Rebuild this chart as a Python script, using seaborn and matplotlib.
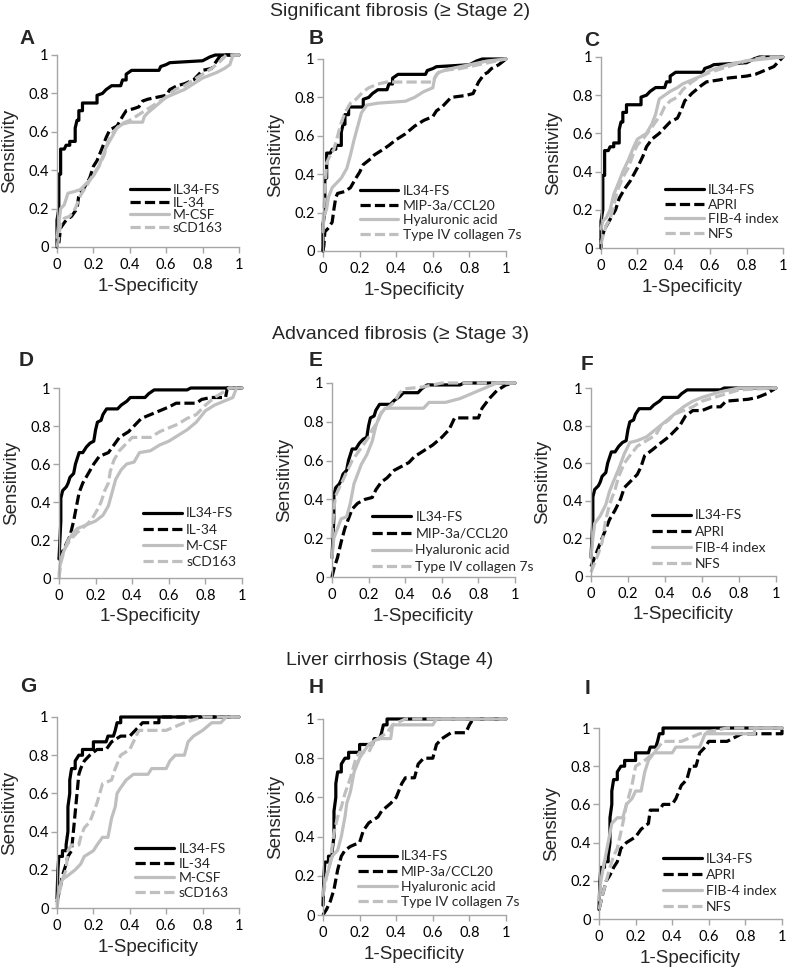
import matplotlib
matplotlib.use('Agg')
import matplotlib.pyplot as plt
import seaborn as sns
import pandas as pd

# ROC points (1-specificity, sensitivity)
# --- significant fibrosis (>= stage 2) ---
il34fs_s2 = [(0, 0), (0, 0.14), (0.01, 0.2), (0.01, 0.38), (0.02, 0.38), (0.02, 0.51), (0.04, 0.51),
             (0.05, 0.53), (0.07, 0.53), (0.07, 0.55), (0.1, 0.55), (0.1, 0.62), (0.11, 0.66), (0.12, 0.66),
             (0.12, 0.71), (0.14, 0.71), (0.14, 0.75), (0.22, 0.75), (0.22, 0.79), (0.25, 0.8), (0.27, 0.82),
             (0.3, 0.84), (0.35, 0.84), (0.36, 0.87), (0.38, 0.87), (0.38, 0.9), (0.41, 0.92), (0.56, 0.92),
             (0.57, 0.94), (0.6, 0.95), (0.62, 0.96), (0.8, 0.97), (0.84, 0.99), (0.87, 1), (1, 1)]
il34_s2 = [(0.01, 0.02), (0.02, 0.1), (0.05, 0.14), (0.08, 0.16), (0.11, 0.2), (0.12, 0.27), (0.15, 0.31),
           (0.18, 0.36), (0.2, 0.42), (0.22, 0.45), (0.25, 0.52), (0.27, 0.57), (0.29, 0.61), (0.33, 0.63),
           (0.36, 0.68), (0.38, 0.71), (0.42, 0.72), (0.45, 0.73), (0.47, 0.76), (0.5, 0.77), (0.55, 0.78),
           (0.6, 0.79), (0.62, 0.82), (0.66, 0.84), (0.7, 0.85), (0.75, 0.87), (0.8, 0.92), (0.85, 0.93),
           (0.87, 0.96), (0.9, 1), (1, 1)]
mcsf_s2 = [(0, 0.05), (0.01, 0.12), (0.02, 0.2), (0.04, 0.22), (0.06, 0.28), (0.1, 0.29), (0.13, 0.3),
           (0.16, 0.33), (0.2, 0.37), (0.23, 0.42), (0.25, 0.47), (0.27, 0.52), (0.3, 0.57), (0.33, 0.62),
           (0.36, 0.64), (0.4, 0.65), (0.47, 0.65), (0.48, 0.68), (0.5, 0.7), (0.55, 0.74), (0.6, 0.78),
           (0.65, 0.8), (0.7, 0.82), (0.75, 0.85), (0.8, 0.88), (0.88, 0.91), (0.92, 0.93), (0.95, 0.95),
           (0.96, 0.98), (0.97, 1), (1, 1)]
scd163_s2 = [(0, 0), (0.01, 0.05), (0.02, 0.12), (0.04, 0.15), (0.07, 0.16), (0.1, 0.2), (0.13, 0.27),
             (0.17, 0.33), (0.2, 0.38), (0.23, 0.42), (0.26, 0.48), (0.28, 0.55), (0.31, 0.6), (0.35, 0.64),
             (0.4, 0.66), (0.45, 0.69), (0.5, 0.72), (0.55, 0.75), (0.6, 0.78), (0.65, 0.82), (0.7, 0.84),
             (0.75, 0.87), (0.8, 0.9), (0.85, 0.93), (0.9, 0.97), (0.93, 1), (1, 1)]
mip_s2 = [(0, 0), (0.005, 0.03), (0.01, 0.1), (0.03, 0.12), (0.05, 0.15), (0.06, 0.22), (0.07, 0.28),
          (0.08, 0.3), (0.12, 0.31), (0.15, 0.33), (0.18, 0.38), (0.2, 0.41), (0.22, 0.45), (0.26, 0.48),
          (0.28, 0.5), (0.33, 0.53), (0.36, 0.55), (0.4, 0.58), (0.45, 0.61), (0.5, 0.65), (0.55, 0.68),
          (0.6, 0.7), (0.62, 0.73), (0.65, 0.75), (0.68, 0.78), (0.7, 0.8), (0.78, 0.81), (0.82, 0.82),
          (0.85, 0.88), (0.88, 0.92), (0.9, 0.93), (0.92, 0.95), (0.96, 0.97), (1, 1)]
ha_s2 = [(0, 0.1), (0.005, 0.18), (0.02, 0.22), (0.03, 0.28), (0.05, 0.33), (0.08, 0.36), (0.1, 0.38),
         (0.13, 0.43), (0.15, 0.5), (0.17, 0.58), (0.19, 0.65), (0.21, 0.72), (0.24, 0.76), (0.3, 0.77),
         (0.45, 0.78), (0.5, 0.8), (0.55, 0.83), (0.6, 0.85), (0.61, 0.9), (0.63, 0.93), (0.7, 0.95),
         (0.8, 0.97), (0.9, 0.99), (1, 1)]
col4_s2 = [(0, 0.15), (0.01, 0.3), (0.02, 0.46), (0.04, 0.5), (0.06, 0.53), (0.08, 0.6), (0.1, 0.67),
           (0.12, 0.72), (0.15, 0.77), (0.18, 0.79), (0.22, 0.83), (0.25, 0.85), (0.3, 0.87), (0.35, 0.88),
           (0.6, 0.88), (0.62, 0.92), (0.65, 0.94), (0.75, 0.95), (0.85, 0.97), (0.9, 0.98), (1, 1)]
apri_s2 = [(0, 0.04), (0.02, 0.1), (0.05, 0.15), (0.08, 0.2), (0.1, 0.26), (0.13, 0.31), (0.16, 0.35),
           (0.2, 0.42), (0.23, 0.48), (0.25, 0.53), (0.28, 0.57), (0.32, 0.6), (0.35, 0.63), (0.38, 0.66),
           (0.42, 0.68), (0.44, 0.72), (0.46, 0.77), (0.5, 0.81), (0.55, 0.85), (0.58, 0.87), (0.65, 0.88),
           (0.7, 0.89), (0.8, 0.9), (0.85, 0.91), (0.9, 0.93), (0.95, 0.95), (0.97, 0.97), (1, 1)]
fib4_s2 = [(0, 0.1), (0.01, 0.14), (0.03, 0.16), (0.05, 0.2), (0.07, 0.28), (0.1, 0.35), (0.12, 0.4),
           (0.15, 0.46), (0.18, 0.53), (0.2, 0.57), (0.25, 0.6), (0.28, 0.65), (0.3, 0.7), (0.32, 0.78),
           (0.35, 0.8), (0.38, 0.82), (0.42, 0.84), (0.45, 0.86), (0.5, 0.88), (0.55, 0.9), (0.6, 0.93),
           (0.7, 0.96), (0.8, 0.98), (0.9, 0.99), (1, 1)]
nfs_s2 = [(0, 0.02), (0.01, 0.06), (0.03, 0.12), (0.05, 0.15), (0.07, 0.22), (0.09, 0.3), (0.12, 0.37),
          (0.15, 0.42), (0.18, 0.5), (0.2, 0.54), (0.23, 0.57), (0.27, 0.62), (0.3, 0.66), (0.33, 0.7),
          (0.35, 0.74), (0.38, 0.77), (0.42, 0.79), (0.45, 0.83), (0.5, 0.87), (0.55, 0.9), (0.6, 0.92),
          (0.7, 0.95), (0.8, 0.98), (0.9, 1), (1, 1)]

# --- advanced fibrosis (>= stage 3) ---
il34fs_s3 = [(0, 0.1), (0.005, 0.2), (0.01, 0.3), (0.01, 0.42), (0.02, 0.46), (0.04, 0.48), (0.05, 0.5),
             (0.06, 0.53), (0.08, 0.55), (0.09, 0.6), (0.1, 0.63), (0.11, 0.66), (0.13, 0.66), (0.15, 0.69),
             (0.17, 0.71), (0.19, 0.72), (0.2, 0.78), (0.21, 0.82), (0.23, 0.83), (0.24, 0.86), (0.26, 0.89),
             (0.32, 0.89), (0.34, 0.91), (0.37, 0.93), (0.39, 0.95), (0.47, 0.95), (0.49, 0.97), (0.52, 0.99),
             (0.7, 0.99), (0.72, 1), (1, 1)]
il34_s3 = [(0, 0.1), (0.02, 0.14), (0.04, 0.18), (0.06, 0.22), (0.08, 0.3), (0.1, 0.4), (0.11, 0.45),
           (0.13, 0.5), (0.16, 0.55), (0.19, 0.6), (0.22, 0.64), (0.27, 0.66), (0.3, 0.7), (0.33, 0.74),
           (0.38, 0.77), (0.41, 0.8), (0.45, 0.84), (0.5, 0.86), (0.55, 0.88), (0.6, 0.9), (0.64, 0.92),
           (0.75, 0.92), (0.78, 0.94), (0.83, 0.95), (0.91, 0.95), (0.92, 1), (1, 1)]
mcsf_s3 = [(0, 0.02), (0.01, 0.1), (0.03, 0.15), (0.05, 0.2), (0.08, 0.24), (0.1, 0.26), (0.15, 0.28),
           (0.2, 0.3), (0.24, 0.33), (0.27, 0.38), (0.29, 0.45), (0.31, 0.52), (0.34, 0.57), (0.37, 0.6),
           (0.41, 0.61), (0.44, 0.66), (0.5, 0.67), (0.55, 0.7), (0.6, 0.72), (0.65, 0.75), (0.7, 0.78),
           (0.75, 0.82), (0.8, 0.88), (0.85, 0.91), (0.9, 0.93), (0.95, 0.95), (0.97, 1), (1, 1)]
scd163_s3 = [(0, 0), (0.01, 0.08), (0.03, 0.15), (0.06, 0.2), (0.1, 0.24), (0.15, 0.28), (0.18, 0.31),
             (0.21, 0.36), (0.23, 0.4), (0.25, 0.46), (0.27, 0.5), (0.28, 0.56), (0.3, 0.62), (0.33, 0.67),
             (0.37, 0.71), (0.4, 0.74), (0.5, 0.74), (0.55, 0.77), (0.6, 0.79), (0.65, 0.81), (0.7, 0.84),
             (0.75, 0.86), (0.8, 0.91), (0.85, 0.95), (0.9, 0.98), (0.93, 1), (1, 1)]
mip_s3 = [(0, 0), (0.01, 0.04), (0.03, 0.1), (0.05, 0.18), (0.07, 0.25), (0.09, 0.3), (0.11, 0.35),
          (0.14, 0.38), (0.18, 0.4), (0.22, 0.41), (0.24, 0.45), (0.27, 0.49), (0.3, 0.51), (0.34, 0.55),
          (0.38, 0.57), (0.42, 0.59), (0.45, 0.62), (0.5, 0.65), (0.55, 0.68), (0.6, 0.72), (0.64, 0.76),
          (0.67, 0.82), (0.8, 0.82), (0.82, 0.87), (0.86, 0.92), (0.9, 0.96), (0.95, 0.99), (1, 1)]
ha_s3 = [(0, 0.1), (0.01, 0.2), (0.03, 0.25), (0.05, 0.3), (0.08, 0.31), (0.1, 0.38), (0.12, 0.48),
         (0.14, 0.53), (0.16, 0.58), (0.19, 0.63), (0.22, 0.7), (0.24, 0.78), (0.26, 0.83), (0.29, 0.87),
         (0.5, 0.87), (0.53, 0.9), (0.62, 0.9), (0.7, 0.92), (0.75, 0.94), (0.8, 0.96), (0.85, 0.98),
         (0.9, 1), (1, 1)]
col4_s3 = [(0, 0.2), (0.01, 0.35), (0.02, 0.42), (0.04, 0.46), (0.06, 0.5), (0.09, 0.56), (0.11, 0.6),
           (0.14, 0.64), (0.17, 0.68), (0.2, 0.72), (0.22, 0.76), (0.25, 0.8), (0.27, 0.85), (0.3, 0.87),
           (0.34, 0.9), (0.37, 0.95), (0.4, 0.97), (0.5, 0.98), (0.55, 0.99), (0.6, 1), (1, 1)]
apri_s3 = [(0, 0.05), (0.02, 0.1), (0.04, 0.15), (0.06, 0.2), (0.08, 0.25), (0.1, 0.3), (0.13, 0.35),
           (0.16, 0.41), (0.18, 0.47), (0.21, 0.5), (0.25, 0.54), (0.27, 0.58), (0.29, 0.64), (0.33, 0.67),
           (0.38, 0.71), (0.42, 0.74), (0.45, 0.77), (0.48, 0.8), (0.51, 0.85), (0.55, 0.88), (0.6, 0.88),
           (0.65, 0.9), (0.7, 0.9), (0.73, 0.93), (0.85, 0.94), (0.9, 0.95), (0.95, 0.97), (1, 1)]
fib4_s3 = [(0, 0.1), (0.01, 0.2), (0.02, 0.28), (0.05, 0.32), (0.08, 0.38), (0.1, 0.45), (0.12, 0.5),
           (0.15, 0.57), (0.18, 0.65), (0.21, 0.71), (0.25, 0.72), (0.3, 0.74), (0.35, 0.78), (0.4, 0.82),
           (0.45, 0.86), (0.5, 0.9), (0.55, 0.93), (0.6, 0.95), (0.7, 0.98), (0.8, 1), (1, 1)]
nfs_s3 = [(0, 0.02), (0.02, 0.07), (0.04, 0.12), (0.06, 0.18), (0.08, 0.3), (0.1, 0.38), (0.13, 0.46),
          (0.15, 0.53), (0.18, 0.6), (0.21, 0.64), (0.25, 0.69), (0.3, 0.72), (0.35, 0.75), (0.38, 0.8),
          (0.42, 0.83), (0.45, 0.86), (0.5, 0.88), (0.55, 0.9), (0.6, 0.93), (0.7, 0.96), (0.8, 0.99), (1, 1)]

# --- liver cirrhosis (stage 4) ---
il34fs_s4 = [(0, 0.05), (0.005, 0.2), (0.01, 0.27), (0.03, 0.27), (0.03, 0.3), (0.05, 0.3), (0.05, 0.33),
             (0.06, 0.4), (0.06, 0.53), (0.07, 0.6), (0.07, 0.67), (0.08, 0.73), (0.1, 0.73), (0.1, 0.77),
             (0.12, 0.8), (0.14, 0.8), (0.14, 0.83), (0.2, 0.83), (0.2, 0.87), (0.27, 0.87), (0.28, 0.9),
             (0.31, 0.9), (0.32, 0.93), (0.33, 0.97), (0.35, 0.97), (0.35, 1), (1, 1)]
il34_s4 = [(0, 0.03), (0.02, 0.12), (0.03, 0.17), (0.04, 0.2), (0.05, 0.23), (0.06, 0.27), (0.08, 0.3),
           (0.09, 0.4), (0.1, 0.5), (0.11, 0.6), (0.12, 0.7), (0.13, 0.73), (0.15, 0.77), (0.18, 0.8),
           (0.22, 0.83), (0.27, 0.83), (0.3, 0.87), (0.35, 0.9), (0.4, 0.9), (0.43, 0.93), (0.47, 0.97),
           (0.56, 0.97), (0.56, 1), (1, 1)]
mcsf_s4 = [(0, 0.02), (0.01, 0.1), (0.03, 0.15), (0.06, 0.17), (0.1, 0.2), (0.13, 0.23), (0.15, 0.27),
           (0.2, 0.3), (0.22, 0.33), (0.25, 0.37), (0.28, 0.37), (0.3, 0.47), (0.32, 0.53), (0.33, 0.6),
           (0.35, 0.63), (0.38, 0.67), (0.42, 0.7), (0.5, 0.7), (0.52, 0.73), (0.6, 0.73), (0.62, 0.77),
           (0.65, 0.8), (0.7, 0.8), (0.72, 0.87), (0.75, 0.9), (0.8, 0.93), (0.85, 0.97), (0.9, 0.97),
           (0.93, 1), (1, 1)]
scd163_s4 = [(0, 0), (0.01, 0.07), (0.03, 0.15), (0.05, 0.2), (0.06, 0.3), (0.08, 0.33), (0.12, 0.33),
             (0.13, 0.37), (0.15, 0.42), (0.18, 0.45), (0.2, 0.5), (0.22, 0.55), (0.25, 0.65), (0.3, 0.67),
             (0.32, 0.73), (0.35, 0.8), (0.4, 0.83), (0.42, 0.87), (0.45, 0.93), (0.6, 0.93), (0.7, 0.97),
             (0.8, 1), (1, 1)]
mip_s4 = [(0, 0), (0.02, 0.03), (0.04, 0.07), (0.06, 0.13), (0.08, 0.23), (0.1, 0.3), (0.12, 0.33),
          (0.15, 0.35), (0.2, 0.37), (0.22, 0.43), (0.25, 0.47), (0.3, 0.5), (0.32, 0.53), (0.37, 0.57),
          (0.4, 0.6), (0.43, 0.67), (0.45, 0.7), (0.5, 0.7), (0.52, 0.77), (0.55, 0.8), (0.6, 0.8),
          (0.62, 0.87), (0.65, 0.9), (0.7, 0.93), (0.78, 0.93), (0.8, 0.97), (0.82, 1), (1, 1)]
ha_s4 = [(0, 0.1), (0.01, 0.17), (0.03, 0.23), (0.05, 0.3), (0.08, 0.33), (0.1, 0.4), (0.12, 0.5),
         (0.13, 0.57), (0.15, 0.63), (0.17, 0.73), (0.2, 0.8), (0.22, 0.83), (0.25, 0.87), (0.3, 0.9),
         (0.37, 0.9), (0.38, 0.97), (0.6, 0.97), (0.62, 1), (1, 1)]
col4_s4 = [(0, 0.1), (0.02, 0.2), (0.04, 0.27), (0.05, 0.35), (0.06, 0.42), (0.08, 0.5), (0.1, 0.55),
           (0.12, 0.62), (0.15, 0.7), (0.18, 0.8), (0.2, 0.83), (0.25, 0.83), (0.27, 0.87), (0.3, 0.9),
           (0.35, 0.93), (0.38, 0.97), (0.45, 1), (1, 1)]
apri_s4 = [(0, 0.05), (0.02, 0.13), (0.04, 0.2), (0.06, 0.23), (0.08, 0.27), (0.1, 0.3), (0.12, 0.37),
           (0.15, 0.4), (0.2, 0.43), (0.23, 0.47), (0.27, 0.5), (0.28, 0.57), (0.33, 0.57), (0.35, 0.6),
           (0.4, 0.6), (0.42, 0.63), (0.45, 0.7), (0.48, 0.73), (0.5, 0.8), (0.53, 0.8), (0.55, 0.87),
           (0.58, 0.9), (0.6, 0.93), (0.7, 0.93), (0.78, 0.97), (1, 0.97), (1, 1)]
fib4_s4 = [(0, 0.1), (0.01, 0.2), (0.03, 0.3), (0.05, 0.4), (0.07, 0.5), (0.1, 0.53), (0.13, 0.53),
           (0.15, 0.6), (0.18, 0.63), (0.2, 0.67), (0.23, 0.67), (0.25, 0.77), (0.27, 0.83), (0.3, 0.87),
           (0.4, 0.87), (0.42, 0.9), (0.55, 0.9), (0.58, 0.97), (0.85, 0.97), (0.85, 1), (1, 1)]
nfs_s4 = [(0, 0.05), (0.02, 0.13), (0.04, 0.2), (0.06, 0.27), (0.08, 0.33), (0.1, 0.37), (0.13, 0.5),
          (0.15, 0.6), (0.18, 0.7), (0.2, 0.8), (0.25, 0.83), (0.3, 0.87), (0.35, 0.93), (0.45, 0.93),
          (0.55, 0.97), (0.7, 1), (1, 1)]

labels_cyt = ['IL34-FS', 'IL-34', 'M-CSF', 'sCD163']
labels_ecm = ['IL34-FS', 'MIP-3a/CCL20', 'Hyaluronic acid', 'Type IV collagen 7s']
labels_idx = ['IL34-FS', 'APRI', 'FIB-4 index', 'NFS']
row_titles = ['Significant fibrosis (\u2265 Stage 2)', 'Advanced fibrosis (\u2265 Stage 3)',
              'Liver cirrhosis (Stage 4)']

# layout in pixels: letter, (left, right, top, bottom) of axes, curves, labels, ylabel,
# legend anchor (axes frac), legend row spacing (px), letter position
W, H = 787, 972
panels = [
    ('A', (57, 239, 55, 247), [il34fs_s2, il34_s2, mcsf_s2, scd163_s2], labels_cyt, 'Sensitivity', (0.40, 0.068), 14, (27, 38)),
    ('B', (323, 506, 59, 251), [il34fs_s2, mip_s2, ha_s2, col4_s2], labels_ecm, 'Sensitivity', (0.20, 0.052), 16, (316, 39)),
    ('C', (601, 783, 57, 248), [il34fs_s2, apri_s2, fib4_s2, nfs_s2], labels_idx, 'Sensitivity', (0.35, 0.042), 16, (592, 41)),
    ('D', (59, 242, 388, 578), [il34fs_s3, il34_s3, mcsf_s3, scd163_s3], labels_cyt, 'Sensitivity', (0.46, 0.053), 17.5, (26, 360)),
    ('E', (332, 515, 383, 577), [il34fs_s3, mip_s3, ha_s3, col4_s3], labels_ecm, 'Sensitivity', (0.22, 0.02), 18, (316, 361)),
    ('F', (591, 776, 388, 576), [il34fs_s3, apri_s3, fib4_s3, nfs_s3], labels_idx, 'Sensitivity', (0.33, 0.032), 17.5, (587, 364)),
    ('G', (57, 239, 717, 908), [il34fs_s4, il34_s4, mcsf_s4, scd163_s4], labels_cyt, 'Sensitivity', (0.43, 0.047), 16, (28, 686)),
    ('H', (323, 506, 719, 915), [il34fs_s4, mip_s4, ha_s4, col4_s4], labels_ecm, 'Sensitivity', (0.19, 0.036), 16.5, (316, 687)),
    ('I', (599, 782, 728, 919), [il34fs_s4, apri_s4, fib4_s4, nfs_s4], labels_idx, 'Sensitivy', (0.35, 0.031), 17.5, (587, 689)),
]
title_pos = [(400, 11), (400, 334), (390, 660)]

black, gray = '#000000', '#bfbfbf'
styles = [(black, None), (black, (3.2, 1.3)), (gray, None), (gray, (3.2, 1.3))]
axis_gray = '#a6a6a6'

sns.set_theme(style='white')
plt.rcParams['font.family'] = ['Liberation Sans', 'DejaVu Sans']

fig = plt.figure(figsize=(W / 100, H / 100), dpi=100)
leg_fs = 10
tick_fs = 10.5

for letter, (x0, x1, y0, y1), curves, labels, ylab, anchor, spacing, lpos in panels:
    ax = fig.add_axes([x0 / W, 1 - y1 / H, (x1 - x0) / W, (y1 - y0) / H])
    for pts, (col, dash), lab in zip(curves, styles, labels):
        df = pd.DataFrame(pts, columns=['fpr', 'tpr'])
        sns.lineplot(data=df, x='fpr', y='tpr', sort=False, estimator=None, color=col,
                     lw=2.3, ax=ax, label=lab, clip_on=False)
        if dash is not None:
            ax.lines[-1].set_dashes(dash)
    ax.set_xlim(0, 1)
    ax.set_ylim(0, 1)
    ticks = [0, 0.2, 0.4, 0.6, 0.8, 1]
    ax.set_xticks(ticks)
    ax.set_yticks(ticks)
    ax.set_xticklabels([f'{t:g}' for t in ticks], family='Lato', fontsize=tick_fs)
    ax.set_yticklabels([f'{t:g}' for t in ticks], family='Lato', fontsize=tick_fs)
    ax.tick_params(axis='both', which='major', direction='out', length=4, width=1,
                   color=axis_gray, labelcolor='black', bottom=True, left=True)
    ax.tick_params(axis='x', pad=4)
    ax.tick_params(axis='y', pad=2)
    for s in ['top', 'right']:
        ax.spines[s].set_visible(False)
    for s in ['left', 'bottom']:
        ax.spines[s].set_color(axis_gray)
        ax.spines[s].set_linewidth(1)
    ax.set_xlabel('1-Specificity', fontsize=13.5)
    ax.set_ylabel(ylab, fontsize=13.5)
    ax.xaxis.set_label_coords(0.5, -0.16)
    ax.yaxis.set_label_coords(-0.215, 0.5)
    fs_px = leg_fs * 100 / 72
    ax.legend(loc='lower left', bbox_to_anchor=anchor, frameon=False,
              prop={'family': 'Lato', 'size': leg_fs}, handlelength=2.8, handletextpad=0.3,
              labelspacing=max(spacing - 0.96 * fs_px, 0.3) / fs_px, borderpad=0, borderaxespad=0)
    fig.text(lpos[0] / W, 1 - lpos[1] / H, letter, fontsize=15, fontweight='bold',
             ha='center', va='center')

for t, (tx, ty) in zip(row_titles, title_pos):
    fig.text(tx / W, 1 - ty / H, t, fontsize=14, ha='center', va='center')

fig.savefig('out.png', dpi=100)
